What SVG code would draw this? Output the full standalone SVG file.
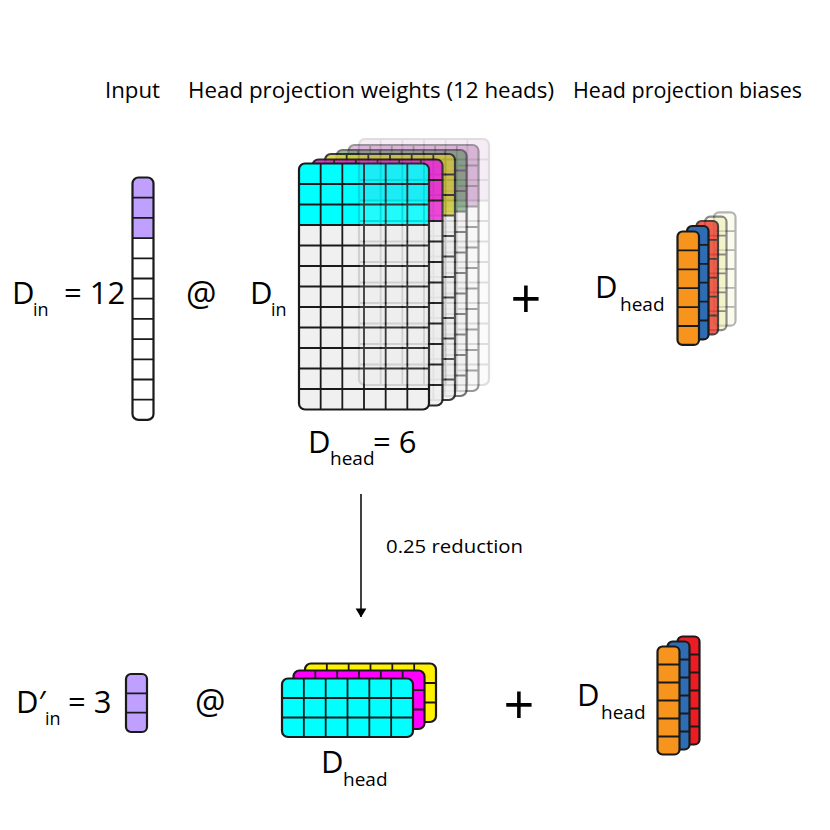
<svg xmlns="http://www.w3.org/2000/svg" xmlns:xlink="http://www.w3.org/1999/xlink" width="830" height="830" viewBox="0 0 830 830">
<style>
.t{font-family:"Open Sans","Liberation Sans",sans-serif;fill:#000}
.g{fill:none;stroke:#1a1a1a;stroke-width:1.8}
.b{fill:none;stroke:#1a1a1a;stroke-width:2.2}
</style>
<defs>
<rect id="wbody" width="130" height="246" rx="6"/>
<path id="wtop" d="M0,61.5V6A6,6 0 0 1 6,0H124A6,6 0 0 1 130,6V61.5Z"/>
<path id="wgrid" d="M21.67,0V246M43.33,0V246M65,0V246M86.67,0V246M108.33,0V246M0,20.5H130M0,41H130M0,61.5H130M0,82H130M0,102.5H130M0,123H130M0,143.5H130M0,164H130M0,184.5H130M0,205H130M0,225.5H130"/>
<rect id="vbody" width="21" height="242.4" rx="6"/>
<path id="vtop" d="M0,60.6V6A6,6 0 0 1 6,0H15A6,6 0 0 1 21,6V60.6Z"/>
<path id="vgrid" d="M0,20.2H21M0,40.4H21M0,60.6H21M0,80.8H21M0,101H21M0,121.2H21M0,141.4H21M0,161.6H21M0,181.8H21M0,202H21M0,222.2H21"/>
<rect id="bbody" width="21.5" height="113.4" rx="5"/>
<path id="bgrid" d="M0,18.9H21.5M0,37.8H21.5M0,56.7H21.5M0,75.6H21.5M0,94.5H21.5"/>
<rect id="b2body" width="22" height="108" rx="5"/>
<path id="b2grid" d="M0,18H22M0,36H22M0,54H22M0,72H22M0,90H22"/>
<rect id="mbody" width="131" height="58.5" rx="6"/>
<path id="mgrid" d="M21.83,0V58.5M43.67,0V58.5M65.5,0V58.5M87.33,0V58.5M109.17,0V58.5M0,19.5H131M0,39H131"/>
<rect id="sbody" width="21" height="58" rx="5"/>
<path id="sgrid" d="M0,19.33H21M0,38.67H21"/>
<marker id="arr" viewBox="0 0 10 12" refX="9.5" refY="6" markerWidth="9" markerHeight="12" markerUnits="userSpaceOnUse" orient="auto">
<path d="M0,0L10,6L0,12Z" fill="#000"/>
</marker>
</defs>
<rect width="830" height="830" fill="#fff"/>

<g id="labels">
<text class="t" x="105" y="98" font-size="22" textLength="55" lengthAdjust="spacingAndGlyphs">Input</text>
<text class="t" x="188" y="98" font-size="22" textLength="366" lengthAdjust="spacingAndGlyphs">Head projection weights (12 heads)</text>
<text class="t" x="573" y="98" font-size="22" textLength="229" lengthAdjust="spacingAndGlyphs">Head projection biases</text>
</g>

<g id="input-vector">
<use href="#vbody" x="132.5" y="177.5" fill="#fff"/>
<use href="#vtop" x="132.5" y="177.5" fill="#c0a0ff"/>
<use href="#vgrid" x="132.5" y="177.5" class="g"/>
<use href="#vbody" x="132.5" y="177.5" class="b"/>
</g>
<g id="label-din">
<text class="t" x="12" y="304" font-size="31">D</text>
<text class="t" x="33" y="316" font-size="18">in</text>
<text class="t" x="64" y="304" font-size="31">= 12</text>
</g>
<text id="at-top" class="t" x="186" y="306" font-size="34">@</text>

<g id="weights-stack">
<g transform="translate(348.5,145)" opacity="0.45">
<use href="#wbody" fill="#f4f4f4"/><use href="#wtop" fill="#b070b0"/><use href="#wgrid" class="g"/><use href="#wbody" class="b"/>
</g>
<g transform="translate(336.5,150)" opacity="0.6">
<use href="#wbody" fill="#f0f0f0"/><use href="#wtop" fill="#4c8c4c"/><use href="#wgrid" class="g"/><use href="#wbody" class="b"/>
</g>
<g transform="translate(325,154)" opacity="0.85">
<use href="#wbody" fill="#f0f0f0"/><use href="#wtop" fill="#d8d030"/><use href="#wgrid" class="g"/><use href="#wbody" class="b"/>
</g>
<g transform="translate(312.5,159.5)" opacity="0.92">
<use href="#wbody" fill="#f0f0f0"/><use href="#wtop" fill="#ee22dd"/><use href="#wgrid" class="g"/><use href="#wbody" class="b"/>
</g>
<g transform="translate(299,163.5)">
<use href="#wbody" fill="#f0f0f0"/><use href="#wtop" fill="#00ffff"/><use href="#wgrid" class="g"/><use href="#wbody" class="b"/>
</g>
<g transform="translate(359,139)" opacity="0.14">
<use href="#wbody" fill="#e8e8e8"/><use href="#wtop" fill="#c080c0"/><use href="#wgrid" class="g"/><use href="#wbody" class="b"/>
</g>
</g>
<g id="label-din-w">
<text class="t" x="250" y="304" font-size="31">D</text>
<text class="t" x="271" y="316" font-size="18">in</text>
</g>
<g id="label-dhead-w">
<text class="t" x="308" y="453" font-size="31">D</text>
<text class="t" x="330" y="465" font-size="19">head</text>
<text class="t" x="373" y="453" font-size="31">= 6</text>
</g>
<text id="plus-top" class="t" x="526" y="318" font-size="54" text-anchor="middle">+</text>

<g id="bias-stack">
<g transform="translate(714,212.3)" opacity="0.32">
<use href="#bbody" fill="#f2f2c8"/><use href="#bgrid" class="g"/><use href="#bbody" class="b"/>
</g>
<g transform="translate(705,216.7)" opacity="0.5">
<use href="#bbody" fill="#eeeeaa"/><use href="#bgrid" class="g"/><use href="#bbody" class="b"/>
</g>
<g transform="translate(696.5,221)" opacity="0.8">
<use href="#bbody" fill="#ee3b2e"/><use href="#bgrid" class="g"/><use href="#bbody" class="b"/>
</g>
<g transform="translate(687,226)">
<use href="#bbody" fill="#2e6db4"/><use href="#bgrid" class="g"/><use href="#bbody" class="b"/>
</g>
<g transform="translate(677.5,231.5)">
<use href="#bbody" fill="#f7941d"/><use href="#bgrid" class="g"/><use href="#bbody" class="b"/>
</g>
</g>
<g id="label-dhead-b">
<text class="t" x="595" y="298" font-size="31">D</text>
<text class="t" x="620" y="311" font-size="19">head</text>
</g>

<g id="connectors">
<line x1="361" y1="494" x2="361" y2="617" stroke="#000" stroke-width="1.5" marker-end="url(#arr)"/>
<text class="t" x="386" y="553" font-size="19" textLength="137" lengthAdjust="spacingAndGlyphs">0.25 reduction</text>
</g>

<g id="reduced-vector">
<use href="#sbody" x="126" y="674" fill="#c0a0ff"/>
<use href="#sgrid" x="126" y="674" class="g"/>
<use href="#sbody" x="126" y="674" class="b"/>
</g>
<g id="label-din-r">
<text class="t" x="16" y="713" font-size="31">D′</text>
<text class="t" x="45" y="725" font-size="18">in</text>
<text class="t" x="68" y="713" font-size="31">= 3</text>
</g>
<text id="at-bottom" class="t" x="195" y="714" font-size="34">@</text>

<g id="reduced-weights">
<g transform="translate(305,663.5)">
<use href="#mbody" fill="#fff200"/><use href="#mgrid" class="g"/><use href="#mbody" class="b"/>
</g>
<g transform="translate(293.5,670.5)">
<use href="#mbody" fill="#ff00ff"/><use href="#mgrid" class="g"/><use href="#mbody" class="b"/>
</g>
<g transform="translate(282,678.5)">
<use href="#mbody" fill="#00ffff"/><use href="#mgrid" class="g"/><use href="#mbody" class="b"/>
</g>
</g>
<g id="label-dhead-rw">
<text class="t" x="321" y="773" font-size="31">D</text>
<text class="t" x="343" y="786" font-size="19">head</text>
</g>
<text id="plus-bottom" class="t" x="519" y="724" font-size="54" text-anchor="middle">+</text>

<g id="reduced-biases">
<g transform="translate(677.5,636.5)">
<use href="#b2body" fill="#ed1c24"/><use href="#b2grid" class="g"/><use href="#b2body" class="b"/>
</g>
<g transform="translate(667.5,641.5)">
<use href="#b2body" fill="#2e6db4"/><use href="#b2grid" class="g"/><use href="#b2body" class="b"/>
</g>
<g transform="translate(657.5,646.5)">
<use href="#b2body" fill="#f7941d"/><use href="#b2grid" class="g"/><use href="#b2body" class="b"/>
</g>
</g>
<g id="label-dhead-rb">
<text class="t" x="577" y="706" font-size="31">D</text>
<text class="t" x="601" y="719" font-size="19">head</text>
</g>
</svg>
